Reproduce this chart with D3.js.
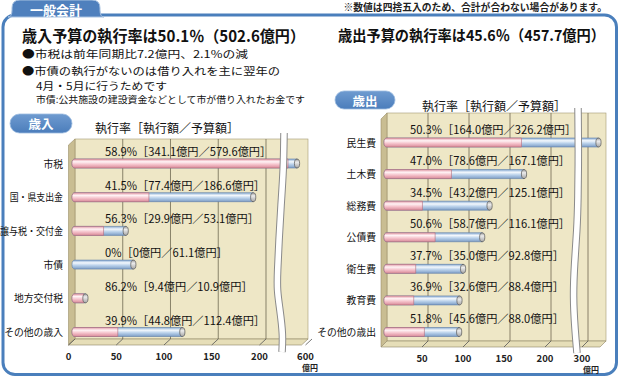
<!DOCTYPE html>
<html><head><meta charset="utf-8">
<script src="https://cdn.jsdelivr.net/npm/d3@7"></script>
<style>
body{margin:0;background:#fff;}
svg{display:block;font-family:"Noto Sans CJK JP","Noto Sans",sans-serif;}
</style></head><body>
<svg id="c" width="620" height="378"></svg>
<script>
// ---------- data ----------
const revCategories = ["市税","国・県支出金","譲与税・交付金","市債","地方交付税","その他の歳入"];
const revExec   = [341.1, 77.4, 29.9, 0, 9.4, 44.8];
const revBudget = [579.6, 186.6, 53.1, 61.1, 10.9, 112.4];
const revRate   = [58.9, 41.5, 56.3, 0, 86.2, 39.9];
const revTicks  = [0, 50, 100, 150, 200, 600];

const expCategories = ["民生費","土木費","総務費","公債費","衛生費","教育費","その他の歳出"];
const expExec   = [164.0, 78.6, 43.2, 58.7, 35.0, 32.6, 45.6];
const expBudget = [326.2, 167.1, 125.1, 116.1, 92.8, 88.4, 88.0];
const expRate   = [50.3, 47.0, 34.5, 50.6, 37.7, 36.9, 51.8];
const expTicks  = [50, 100, 150, 200, 300];

const titleRev = "歳入予算の執行率は50.1％（502.6億円）";
const titleExp = "歳出予算の執行率は45.6％（457.7億円）";
const bulletLines = ["●市税は前年同期比7.2億円、2.1%の減","●市債の執行がないのは借り入れを主に翌年の","4月・5月に行うためです"];
const noteLine = "市債:公共施設の建設資金などとして市が借り入れたお金です";
const topNote = "※数値は四捨五入のため、合計が合わない場合があります。";
const axisCaption = "執行率［執行額／予算額］";

// ---------- svg ----------
const svg = d3.select("#c");
const defs = svg.append("defs");
function grad(id, stops){
  const g = defs.append("linearGradient").attr("id",id).attr("x1",0).attr("y1",0).attr("x2",0).attr("y2",1);
  stops.forEach(s=>g.append("stop").attr("offset",s[0]).attr("stop-color",s[1]));
}
grad("pinkG",[[0,"#e49aa8"],[0.3,"#fff3f5"],[0.6,"#f5c3cc"],[1,"#d98a99"]]);
grad("blueG",[[0,"#88abd3"],[0.3,"#f3f8fd"],[0.6,"#b8d0ea"],[1,"#7d9dc5"]]);
grad("capG",[[0,"#9a9a9a"],[0.35,"#ececec"],[1,"#a5a5a5"]]);
grad("pillG",[[0,"#6f9bd0"],[1,"#4b7dbb"]]);

const BLUE = "#4a7fbc";

// outer frame
svg.append("rect").attr("x",3).attr("y",15).attr("width",613.5).attr("height",359.5)
  .attr("rx",12).attr("fill","none").attr("stroke",BLUE).attr("stroke-width",3);
// tab
svg.append("path").attr("d","M8,17 Q12,17 12,10 L12,8 Q12,0 20,0 L92,0 Q100,0 100,8 L100,10 Q100,17 104,17 Z")
  .attr("fill","#4f80bd").attr("stroke","#a9c3e2").attr("stroke-width",1);
svg.append("text").attr("x",56).attr("y",9).attr("text-anchor","middle").attr("dominant-baseline","central")
  .attr("fill","#fff").attr("font-size",13).attr("font-weight","bold").text("一般会計");

// top note
svg.append("text").attr("x",607).attr("y",7).attr("text-anchor","end").attr("dominant-baseline","central")
  .attr("font-size",9.8).attr("font-weight","bold").attr("fill","#222").text(topNote);

// titles
svg.append("text").attr("x",22).attr("y",34.5).attr("dominant-baseline","central")
  .attr("font-size",15.5).attr("font-weight","bold").attr("fill","#111")
  .attr("textLength",283).attr("lengthAdjust","spacingAndGlyphs").text(titleRev);
svg.append("text").attr("x",338).attr("y",34.5).attr("dominant-baseline","central")
  .attr("font-size",15).attr("font-weight","bold").attr("fill","#111")
  .attr("textLength",267).attr("lengthAdjust","spacingAndGlyphs").text(titleExp);

// bullets
const bulletX = [22,22,36], bulletY = [53.5,70.5,85], bulletW = [226,258,131];
bulletLines.forEach((t,i)=>{
  svg.append("text").attr("x",bulletX[i]).attr("y",bulletY[i]).attr("dominant-baseline","central")
    .attr("font-size",10.6).attr("fill","#111")
    .attr("textLength",bulletW[i]).attr("lengthAdjust","spacingAndGlyphs").text(t);
});
svg.append("text").attr("x",36).attr("y",98.5).attr("dominant-baseline","central")
  .attr("font-size",9.6).attr("fill","#111").attr("textLength",269).attr("lengthAdjust","spacingAndGlyphs").text(noteLine);

// ---------- chart function ----------
function fmt(v){ return v===0 ? "0" : v.toFixed(1); }

function drawChart(o){
  const g = svg.append("g");
  // pill
  g.append("rect").attr("x",o.pill[0]).attr("y",o.pill[1]).attr("width",o.pill[2]).attr("height",o.pill[3])
    .attr("rx",o.pill[3]/2).attr("fill","url(#pillG)").attr("stroke","#9cbbe0").attr("stroke-width",0.8);
  g.append("text").attr("x",o.pill[0]+o.pill[2]/2).attr("y",o.pill[1]+o.pill[3]/2).attr("text-anchor","middle")
    .attr("dominant-baseline","central").attr("fill","#fff").attr("font-size",12.5).attr("font-weight","bold").text(o.pillText);
  // caption
  g.append("text").attr("x",o.capX).attr("y",o.capY).attr("dominant-baseline","central")
    .attr("font-size",12).attr("fill","#111").text(axisCaption);

  const sx = o.scale, dx = o.dx, dy = o.dy;
  const top = o.top, fb = o.floorBack, ff = fb + dy;
  const xl = sx(0), xr = o.wallRight;
  // back wall
  g.append("rect").attr("x",xl).attr("y",top).attr("width",xr-xl).attr("height",fb-top)
    .attr("fill","#eee7c6").attr("stroke","#a49a74").attr("stroke-width",0.6);
  // side wall
  g.append("path").attr("d",`M${xl-dx},${top+dy} L${xl},${top} L${xl},${fb} L${xl-dx},${ff} Z`)
    .attr("fill","#c9bd92").attr("stroke","#9a8f68").attr("stroke-width",0.6);
  // floor
  g.append("path").attr("d",`M${xl-dx},${ff} L${xl},${fb} L${xr},${fb} L${xr-dx},${ff} Z`)
    .attr("fill","#e6deb8").attr("stroke","#8e8566").attr("stroke-width",0.6);
  // gridlines and floor ticks
  o.ticks.forEach(t=>{
    const x = sx(t);
    if (t>0 && x < xr-2) {
      g.append("line").attr("x1",x).attr("x2",x).attr("y1",top).attr("y2",fb)
        .attr("stroke","#6f6852").attr("stroke-width",0.8);
    }
    g.append("line").attr("x1",x-dx).attr("y1",ff).attr("x2",x).attr("y2",fb)
      .attr("stroke","#555",).attr("stroke-width",0.8);
    g.append("text").attr("x",x-dx).attr("y",ff+10.5).attr("text-anchor","middle")
      .attr("dominant-baseline","central").attr("font-size",9.5).attr("font-weight","bold").attr("fill","#222").text(t);
  });
  g.append("text").attr("x",o.unitX).attr("y",ff+22).attr("text-anchor","middle").attr("dominant-baseline","central")
    .attr("font-size",8).attr("font-weight","bold").attr("fill","#222").text("億円");

  // categories
  const sy = d3.scalePoint().domain(o.cats).range(o.yRange);
  const h = 9, r = h/2;
  o.cats.forEach((c,i)=>{
    const yc = sy(c);
    const x0 = sx(0) - 3;
    const xb = sx(o.budget[i]), xe = sx(o.exec[i]);
    const lab = g.append("text").attr("x",o.catX).attr("y",yc).attr("text-anchor","end").attr("dominant-baseline","central")
      .attr("font-size",9.8).attr("fill","#111").text(c);
    const nDot = (c.match(/・/g)||[]).length;
    if (nDot) {
      const w = lab.node().getComputedTextLength();
      lab.attr("textLength", w - nDot*5.5).attr("lengthAdjust","spacingAndGlyphs");
    }
    g.append("text").attr("x",o.valX).attr("y",yc-o.valOff).attr("dominant-baseline","central")
      .attr("font-size",11.2).attr("fill","#111")
      .text(`${fmt(o.rate[i])}%［${fmt(o.exec[i])}億円／${fmt(o.budget[i])}億円］`);
    const body = xe2 => `M${xe2},${yc-r} L${x0+3},${yc-r} A3,${r} 0 0 0 ${x0+3},${yc+r} L${xe2},${yc+r} Z`;
    g.append("path").attr("d",body(xb)).attr("fill","url(#blueG)").attr("stroke","#5e7ea8").attr("stroke-width",0.6);
    if (o.exec[i] > 0) {
      g.append("path").attr("d",body(xe)).attr("fill","url(#pinkG)").attr("stroke","#b06b7a").attr("stroke-width",0.6);
    }
    g.append("ellipse").attr("cx",xb).attr("cy",yc).attr("rx",2.6).attr("ry",r)
      .attr("fill","url(#capG)").attr("stroke","#555").attr("stroke-width",0.7);
  });

  // axis break
  const line = d3.line().curve(d3.curveBasis);
  g.append("path").attr("d",line(o.brk)).attr("fill","none").attr("stroke","#8a8a8a").attr("stroke-width",7.5);
  g.append("path").attr("d",line(o.brk)).attr("fill","none").attr("stroke","#fff").attr("stroke-width",5.5);
}

drawChart({
  pill:[10,114,62,19], pillText:"歳入", capX:95, capY:127,
  scale: d3.scaleLinear().domain([0,222,570,600]).range([75,287,290,312]),
  dx:6.5, dy:6, top:139, floorBack:339, wallRight:308,
  ticks: revTicks, unitX:310,
  cats: revCategories, exec: revExec, budget: revBudget, rate: revRate,
  yRange:[163.5,332], catX:63, valX:105, valOff:12.5,
  brk:[[284,133],[283.5,170],[281,205],[279,240],[277.5,272],[277,290],[280,310],[283,335],[282,352]]
});
drawChart({
  pill:[335,91,60,18], pillText:"歳出", capX:422, capY:105,
  scale: d3.scaleLinear().domain([0,235,285,340]).range([387,579.7,582,604]),
  dx:6, dy:6, top:113, floorBack:341, wallRight:606,
  ticks: expTicks, unitX:591,
  cats: expCategories, exec: expExec, budget: expBudget, rate: expRate,
  yRange:[142.5,332], catX:376, valX:410, valOff:14,
  brk:[[578,108],[578.5,150],[578,200],[577,230],[574.5,263],[573,297],[575,330],[577,353]]
});
</script></body></html>
